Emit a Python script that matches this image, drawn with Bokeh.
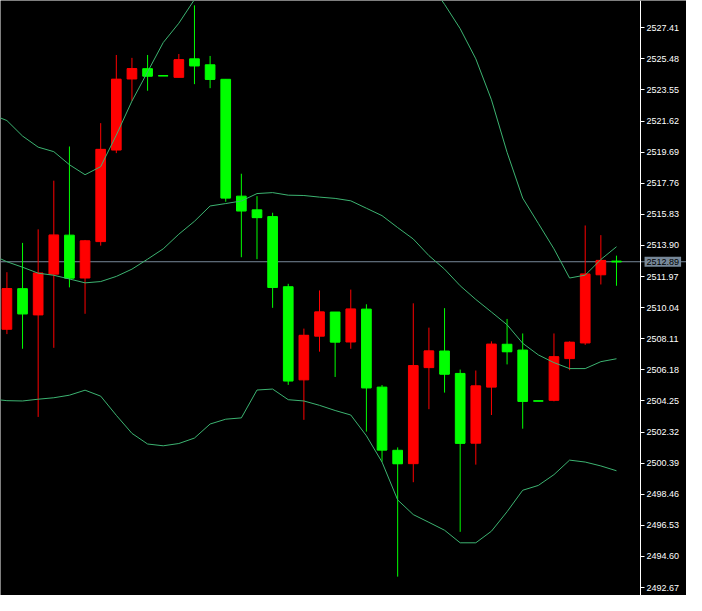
from bokeh.plotting import figure
from bokeh.models import Range1d, FixedTicker, Span, Label, ColumnDataSource, PrintfTickFormatter
from bokeh.embed import file_html
from bokeh.resources import INLINE

# ---- data (prices) ----
opens = [2508.70, 2511.22, 2509.59, 2512.12, 2514.54, 2511.88, 2514.14, 2519.82, 2524.23, 2524.87,
         2524.43, 2524.33, 2525.48, 2525.11, 2524.21, 2516.96, 2516.11, 2515.69, 2511.34, 2505.56,
         2508.27, 2509.77, 2507.91, 2509.95, 2505.11, 2501.19, 2500.36, 2506.32, 2507.35, 2505.96,
         2501.63, 2505.11, 2507.77, 2507.41, 2504.25, 2504.29, 2506.88, 2507.85, 2512.08, 2512.93]
highs = [2512.24, 2514.06, 2514.90, 2517.92, 2520.04, 2514.24, 2521.49, 2525.72, 2525.54, 2525.72,
         2524.43, 2525.78, 2528.80, 2525.66, 2524.21, 2518.35, 2516.96, 2515.93, 2511.52, 2508.74,
         2511.11, 2509.77, 2511.16, 2510.25, 2505.24, 2501.37, 2510.31, 2508.80, 2510.01, 2506.20,
         2506.14, 2507.95, 2509.34, 2508.44, 2504.25, 2508.44, 2507.95, 2515.14, 2514.54, 2513.27]
lows = [2508.40, 2507.49, 2503.26, 2507.55, 2511.30, 2509.66, 2513.89, 2519.63, 2522.88, 2523.50,
        2524.43, 2524.33, 2523.91, 2523.66, 2516.61, 2513.17, 2513.05, 2510.03, 2505.25, 2503.08,
        2507.31, 2505.74, 2507.49, 2502.35, 2500.48, 2493.35, 2499.21, 2503.74, 2504.77, 2496.13,
        2500.30, 2503.38, 2506.52, 2502.53, 2504.25, 2504.23, 2506.16, 2507.73, 2511.48, 2511.40]
closes = [2511.22, 2509.66, 2512.18, 2514.54, 2511.88, 2514.18, 2519.86, 2524.21, 2524.87, 2524.41,
          2524.43, 2525.42, 2525.05, 2524.21, 2516.85, 2516.05, 2515.63, 2511.30, 2505.50, 2508.32,
          2509.77, 2507.91, 2509.95, 2505.07, 2501.21, 2500.36, 2506.44, 2507.35, 2505.92, 2501.63,
          2505.18, 2507.77, 2507.31, 2504.23, 2504.25, 2506.99, 2507.89, 2512.12, 2512.97, 2512.89]

# Bollinger bands, one value per bar; the first value belongs to the bar just left of the view
band_x = list(range(-1, 40))
bb_upper = [2522.04,
            2521.65, 2520.69, 2520.00, 2519.72, 2518.91, 2518.29, 2518.79, 2520.75, 2522.86, 2524.67,
            2526.49, 2527.69, 2529.16, 2530.10, 2530.90, 2531.50, 2532.20, 2532.80, 2533.30, 2533.70,
            2534.00, 2534.20, 2534.20, 2534.00, 2533.50, 2532.70, 2531.60, 2530.24, 2528.86, 2527.35,
            2525.48, 2522.94, 2519.68, 2516.84, 2515.27, 2513.69, 2511.88, 2512.06, 2513.03, 2513.82]
bb_middle = [2513.33,
             2512.89, 2512.55, 2512.18, 2512.05, 2511.82, 2511.58, 2511.66, 2511.98, 2512.43, 2513.05,
             2513.69, 2514.60, 2515.40, 2516.35, 2516.50, 2516.66, 2517.12, 2517.18, 2517.02, 2517.00,
             2516.90, 2516.82, 2516.67, 2516.21, 2515.75, 2515.01, 2514.30, 2513.27, 2512.43, 2511.40,
             2510.55, 2509.77, 2508.98, 2507.83, 2507.11, 2506.63, 2506.26, 2506.26, 2506.69, 2506.87]
bb_lower = [2504.37,
            2504.27, 2504.25, 2504.36, 2504.45, 2504.61, 2504.92, 2504.55, 2503.36, 2502.24, 2501.58,
            2501.47, 2501.61, 2501.95, 2502.82, 2503.12, 2503.20, 2504.93, 2504.99, 2504.33, 2504.25,
            2503.98, 2503.66, 2503.38, 2502.09, 2500.46, 2498.11, 2497.20, 2496.72, 2496.23, 2495.45,
            2495.45, 2496.17, 2497.38, 2498.71, 2499.01, 2499.68, 2500.58, 2500.46, 2500.22, 2499.92]

tick_labels = ["2527.41", "2525.48", "2523.55", "2521.62", "2519.69", "2517.76", "2515.83",
               "2513.90", "2511.97", "2510.04", "2508.11", "2506.18", "2504.25", "2502.32",
               "2500.39", "2498.46", "2496.53", "2494.60", "2492.67"]
last_price = 2512.89
last_price_label = "2512.89"

BULL = "#FF0000"
BEAR = "#00FF00"
BAND = "#3CB371"
PRICE_LINE = "#778899"
BODY_W = 0.62

# horizontal layout: the frame spans the whole figure; the price scale sits at AXIS_X
X_START = -0.41
AXIS_X = 40.54
X_END = 43.48

n = len(opens)
xs = list(range(n))
colors = [BULL if c > o else BEAR for o, c in zip(opens, closes)]
src = ColumnDataSource(dict(
    x=xs, h=highs, l=lows, c=closes,
    top=[max(o, c) for o, c in zip(opens, closes)],
    bottom=[min(o, c) for o, c in zip(opens, closes)],
    x0=[x - BODY_W / 2 for x in xs], x1=[x + BODY_W / 2 for x in xs],
    color=colors,
))

p = figure(width=686, height=595, output_backend="svg", toolbar_location=None,
           x_range=Range1d(X_START, X_END), y_range=Range1d(2492.18, 2529.10),
           x_axis_location=None, y_axis_location="right",
           background_fill_color="black", border_fill_color="black",
           min_border_left=0, min_border_top=0, min_border_bottom=0, min_border_right=0)
p.outline_line_color = None
p.grid.visible = False

p.add_layout(Span(location=last_price, dimension="width", line_color=PRICE_LINE,
                  line_width=1, level="underlay"))

p.segment(x0="x", y0="h", x1="x", y1="l", line_color="color", line_width=1, source=src)
p.vbar(x="x", width=BODY_W, top="top", bottom="bottom", fill_color="color",
       line_color="color", line_width=1, source=src)
p.segment(x0="x0", y0="c", x1="x1", y1="c", line_color="color", line_width=1, source=src)

for band in (bb_upper, bb_middle, bb_lower):
    p.line(band_x, band, line_color=BAND, line_width=1)

ax = p.yaxis[0]
ax.fixed_location = AXIS_X
ax.ticker = FixedTicker(ticks=[float(t) for t in tick_labels])
ax.formatter = PrintfTickFormatter(format="%.2f")
ax.axis_line_color = "white"
ax.major_tick_line_color = "white"
ax.major_tick_out = 4
ax.major_tick_in = 0
ax.minor_tick_line_color = None
ax.major_label_text_color = "white"
ax.major_label_text_font = "Liberation Sans"
ax.major_label_text_font_size = "9px"
ax.major_label_standoff = 2

p.add_layout(Label(x=AXIS_X, y=last_price, x_offset=4, text=last_price_label,
                   text_color="black", text_font="Liberation Sans", text_font_size="9px",
                   text_baseline="middle", text_align="left",
                   background_fill_color=PRICE_LINE, padding=2, level="overlay"))

open("out.html", "w").write(file_html(p, INLINE))
